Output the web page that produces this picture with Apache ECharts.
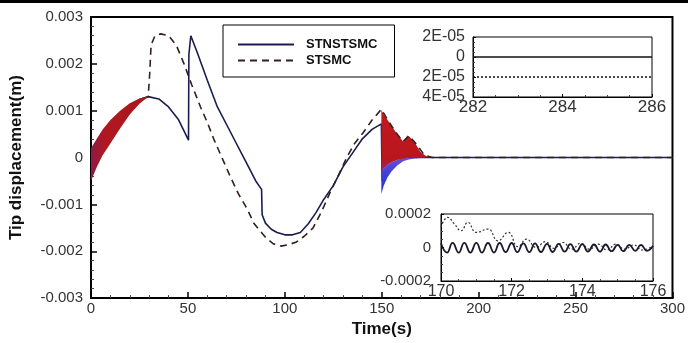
<!DOCTYPE html>
<html><head><meta charset="utf-8">
<script src="https://cdn.jsdelivr.net/npm/echarts@6/dist/echarts.min.js"></script>
<style>html,body{margin:0;padding:0;background:#fff}#c{width:688px;height:343px}</style>
</head><body><div id="c"></div>
<script>
// ---- main chart data ----
const solidT = [0, 5, 10, 15, 20, 25, 29.5, 35, 40, 45, 50.3, 50.5, 51.5, 55, 60, 65, 70, 75, 80, 85, 88, 88.3, 90, 93, 96, 100, 104, 108, 112, 116, 120, 125, 130, 135, 140, 145, 149.8, 150.2, 155, 160, 165, 170, 300];
const solidV = [-0.0001, 0.0004, 0.00065, 0.0009, 0.0011, 0.00124, 0.0013, 0.00125, 0.00108, 0.00082, 0.00037, 0.0022, 0.0026, 0.00222, 0.00165, 0.0011, 0.0007, 0.0003, -0.0001, -0.0005, -0.00068, -0.00122, -0.0014, -0.00153, -0.0016, -0.00165, -0.00165, -0.0016, -0.00142, -0.00118, -0.0009, -0.0006, -0.0002, 0.0001, 0.0004, 0.0006, 0.00072, -0.0005, -0.00015, -0.00004, 0, 0, 0];
const dashT = [0, 5, 10, 15, 20, 25, 29.5, 30.3, 31, 33, 36, 40, 44, 48, 52, 56.5, 60, 63.3, 67, 71.9, 76, 80.5, 84, 87.3, 90, 94, 98, 102, 106, 110, 114.6, 119, 123.3, 128, 131.9, 136, 140.4, 145, 149.8, 152, 155, 158, 161, 164, 168, 172, 176, 300];
const dashV = [-0.0001, 0.0004, 0.00065, 0.0009, 0.0011, 0.00124, 0.0013, 0.0018, 0.0024, 0.0026, 0.00264, 0.0026, 0.0024, 0.002, 0.00155, 0.00108, 0.00075, 0.0004, 0.00005, -0.00041, -0.00077, -0.00109, -0.0014, -0.00157, -0.0017, -0.00184, -0.00189, -0.00186, -0.0018, -0.00168, -0.0015, -0.00115, -0.00075, -0.00035, 0, 0.0003, 0.00053, 0.0008, 0.00103, 0.00088, 0.00068, 0.0005, 0.00034, 0.00047, 0.00028, 0.00005, 0, 0];

// chattering envelope, start-up (red band)
const band1T   = [0, 1.5, 3, 6, 10, 15, 20, 25, 29.5];
const band1Up  = [0.0002, 0.0003, 0.0004, 0.0006, 0.0008, 0.001, 0.00116, 0.00126, 0.0013];
const band1Low = [-0.0005, -0.00035, -0.0002, 0.00005, 0.0003, 0.00062, 0.00092, 0.00115, 0.0013];

// chattering envelope after t=150 (red + blue bands)
const band2T    = [149.8, 151, 153, 155, 158, 161, 164, 167, 170, 173, 176];
const band2Up   = [0.00102, 0.00092, 0.0008, 0.00068, 0.0005, 0.00034, 0.00046, 0.00032, 0.00012, 0.00003, 0.00001];
const band2Mid  = [-0.0003, -0.00024, -0.00016, -0.0001, -0.00005, -0.00002, 0, 0, 0, 0, 0];
const band2Low  = [-0.00078, -0.0006, -0.00042, -0.0003, -0.00017, -0.00008, -0.00004, -0.00002, -0.00001, 0, 0];

// ---- inset 1 (282–286 s) ----
const in1T = [282, 286];
const in1Solid = [0, 0];
const in1Dot = [-0.00002, -0.00002];

// ---- inset 2 (170–176 s) ----
const in2SolidT = [170.00,170.17,170.33,170.50,170.66,170.83,171.00,171.16,171.33,171.50,171.66,171.83,172.00,172.16,172.33,172.50,172.66,172.83,173.00,173.16,173.33,173.50,173.66,173.83,174.00,174.16,174.33,174.50,174.66,174.83,175.00,175.16,175.33,175.50,175.66,175.83,176.00];
const in2SolidV = [0.000025,-0.00003,0.000028,-0.00003,0.000028,-0.00003,0.000028,-0.00003,0.000027,-0.00003,0.000027,-0.000028,0.000027,-0.000028,0.000025,-0.000028,0.000025,-0.000027,0.000022,-0.000027,0.000022,-0.000025,0.00002,-0.000025,0.00002,-0.000025,0.000018,-0.000025,0.000018,-0.000022,0.000016,-0.000022,0.000016,-0.00002,0.000015,-0.00002,0.00001];
const in2DotT = [170.00,170.19,170.38,170.57,170.76,171.00,171.33,171.61,171.90,172.18,172.42,172.70,172.95,173.20,173.45,173.70,173.95,174.20,174.45,174.70,174.95,175.20,175.45,175.70,176.00];
const in2DotV = [0.00012,0.00018,0.00014,0.0001,0.00015,0.00009,0.00011,0.00004,0.00009,0.000005,0.00005,0.0,0.000035,-0.000005,0.00003,-0.00001,0.000025,-0.00001,0.00002,-0.000015,0.00002,-0.00001,0.000015,-0.000015,0.00001];

// ---- tick labels ----
const mainYLabels = ['-0.003','-0.002','-0.001','0','0.001','0.002','0.003'];
const mainXLabels = ['0','50','100','150','200','250','300'];
const in1YLabels = ['4E-05','2E-05','0','2E-05'];
const in1XLabels = ['282','284','286'];
const in2YLabels = ['-0.0002','0','0.0002'];
const in2XLabels = ['170','172','174','176'];

const FONT = 'Liberation Sans, Arial, sans-serif';
const zip = (a, b) => a.map((t, i) => [t, b[i]]);

function bandRender(T, up, low, fill) {
  return function (params, api) {
    const pts = [];
    for (let i = 0; i < T.length; i++) pts.push(api.coord([T[i], up[i]]));
    for (let i = T.length - 1; i >= 0; i--) pts.push(api.coord([T[i], low[i]]));
    return { type: 'polygon', shape: { points: pts }, style: { fill: fill } };
  };
}

function axisX(gi, min, max, interval, labels, fs, margin) {
  return {
    type: 'value', gridIndex: gi, min: min, max: max, interval: interval,
    axisLine: { show: true, onZero: false, lineStyle: { color: '#000', width: gi === 0 ? 2 : 1 } },
    axisTick: { show: true, inside: true, length: gi === 0 ? 6 : 3, lineStyle: { color: '#000', width: gi === 0 ? 1.5 : 1 } },
    minorTick: { show: true, splitNumber: gi === 0 ? 5 : 4, length: gi === 0 ? 3 : 2, lineStyle: { color: '#444' } },
    splitLine: { show: false },
    axisLabel: { color: '#333', fontSize: fs, fontFamily: FONT, margin: margin,
      formatter: (v, i) => labels[i] }
  };
}
function axisY(gi, min, max, interval, labels, fs, margin) {
  return {
    type: 'value', gridIndex: gi, min: min, max: max, interval: interval,
    axisLine: { show: true, onZero: false, lineStyle: { color: '#000', width: gi === 0 ? 2 : 1 } },
    axisTick: { show: true, inside: true, length: gi === 0 ? 6 : 3, lineStyle: { color: '#000', width: gi === 0 ? 1.5 : 1 } },
    minorTick: { show: true, splitNumber: gi === 0 ? 5 : 4, length: gi === 0 ? 3 : 2, lineStyle: { color: '#444' } },
    splitLine: { show: false },
    axisLabel: { color: '#333', fontSize: fs, fontFamily: FONT, margin: margin,
      formatter: (v, i) => labels[i] }
  };
}

const chart = echarts.init(document.getElementById('c'), null, { renderer: 'canvas' });
const xMain = axisX(0, 0, 300, 50, mainXLabels, 15, 3);
xMain.name = 'Time(s)'; xMain.nameLocation = 'middle'; xMain.nameGap = 16;
xMain.nameTextStyle = { fontSize: 17, fontWeight: 'bold', color: '#111', fontFamily: FONT };
const yMain = axisY(0, -0.003, 0.003, 0.001, mainYLabels, 15, 8);
yMain.name = 'Tip displacement(m)'; yMain.nameLocation = 'middle'; yMain.nameGap = 66; yMain.nameRotate = 90;
yMain.nameTextStyle = { fontSize: 17, fontWeight: 'bold', color: '#111', fontFamily: FONT };

chart.setOption({
  animation: false,
  backgroundColor: '#fff',
  graphic: [{ type: 'rect', shape: { x: 0, y: 0, width: 688, height: 3 }, style: { fill: '#000' }, z: 100 }],
  grid: [
    { left: 90, top: 17, width: 583, height: 296, show: true, borderColor: '#000', borderWidth: 2, backgroundColor: 'transparent' },
    { left: 473, top: 37, width: 179, height: 60, show: true, borderColor: '#000', borderWidth: 1, backgroundColor: '#fff' },
    { left: 441, top: 214, width: 212, height: 67, show: true, borderColor: '#000', borderWidth: 1, backgroundColor: '#fff' }
  ],
  xAxis: [xMain, axisX(1, 282, 286, 2, in1XLabels, 17, 2), axisX(2, 170, 176, 2, in2XLabels, 16, 3)],
  yAxis: [yMain, axisY(1, -0.00004, 0.00002, 0.00002, in1YLabels, 16, 8), axisY(2, -0.0002, 0.0002, 0.0002, in2YLabels, 15, 10)],
  legend: {
    data: ['STNSTSMC', 'STSMC'], orient: 'vertical', left: 223, top: 25,
    itemWidth: 56, itemHeight: 14, itemGap: 3, padding: [13, 17, 10, 14],
    borderColor: '#000', borderWidth: 1, backgroundColor: '#fff',
    itemStyle: { opacity: 0, borderWidth: 0 },
    textStyle: { fontWeight: 'bold', fontSize: 13, color: '#111', fontFamily: FONT, padding: [0, 0, 0, 7] }
  },
  series: [
    { name: 'STNSTSMC', type: 'line', xAxisIndex: 0, yAxisIndex: 0, data: zip(solidT, solidV), symbol: 'none', z: 2,
      lineStyle: { color: '#1c1c4e', width: 1.6 }, itemStyle: { color: '#1c1c4e' } },
    { type: 'custom', xAxisIndex: 0, yAxisIndex: 0, z: 3, silent: true, data: [[150, 0]],
      renderItem: bandRender(band2T, band2Mid, band2Low,
        new echarts.graphic.LinearGradient(0, 0, 0, 1, [{ offset: 0, color: '#6a4ed0' }, { offset: 0.5, color: '#3b3fd8' }, { offset: 1, color: '#1e2cd8' }])) },
    { type: 'custom', xAxisIndex: 0, yAxisIndex: 0, z: 3, silent: true, data: [[150, 0]],
      renderItem: bandRender(band2T, band2Up, band2Mid,
        new echarts.graphic.LinearGradient(0, 0, 0, 1, [{ offset: 0, color: '#c2181d' }, { offset: 0.8, color: '#b8161f' }, { offset: 1, color: '#8a2a7a' }])) },
    { name: 'STSMC', type: 'line', xAxisIndex: 0, yAxisIndex: 0, data: zip(dashT, dashV), symbol: 'none', z: 4,
      lineStyle: { color: '#32201c', width: 1.6, type: [7, 5] }, itemStyle: { color: '#3a1f1f' } },
    { type: 'custom', xAxisIndex: 0, yAxisIndex: 0, z: 5, silent: true, data: [[10, 0]],
      renderItem: bandRender(band1T, band1Up, band1Low,
        new echarts.graphic.LinearGradient(0, 0, 1, 0, [{ offset: 0, color: '#8e1a48' }, { offset: 0.25, color: '#b01820' }, { offset: 1, color: '#a8161c' }])) },
    // inset 1
    { name: 'in1s', type: 'line', xAxisIndex: 1, yAxisIndex: 1, data: zip(in1T, in1Solid), symbol: 'none',
      lineStyle: { color: '#111', width: 1.5 } },
    { name: 'in1d', type: 'line', xAxisIndex: 1, yAxisIndex: 1, data: zip(in1T, in1Dot), symbol: 'none',
      lineStyle: { color: '#111', width: 1.5, type: [2, 2] } },
    // inset 2
    { name: 'in2d', type: 'line', xAxisIndex: 2, yAxisIndex: 2, data: zip(in2DotT, in2DotV), symbol: 'none', smooth: 0.5,
      lineStyle: { color: '#333', width: 1.2, type: [2, 2] } },
    { name: 'in2s', type: 'line', xAxisIndex: 2, yAxisIndex: 2, data: zip(in2SolidT, in2SolidV), symbol: 'none', smooth: 0.5,
      lineStyle: { color: '#1a1a2a', width: 1.8 } }
  ]
});
</script>
</body></html>
